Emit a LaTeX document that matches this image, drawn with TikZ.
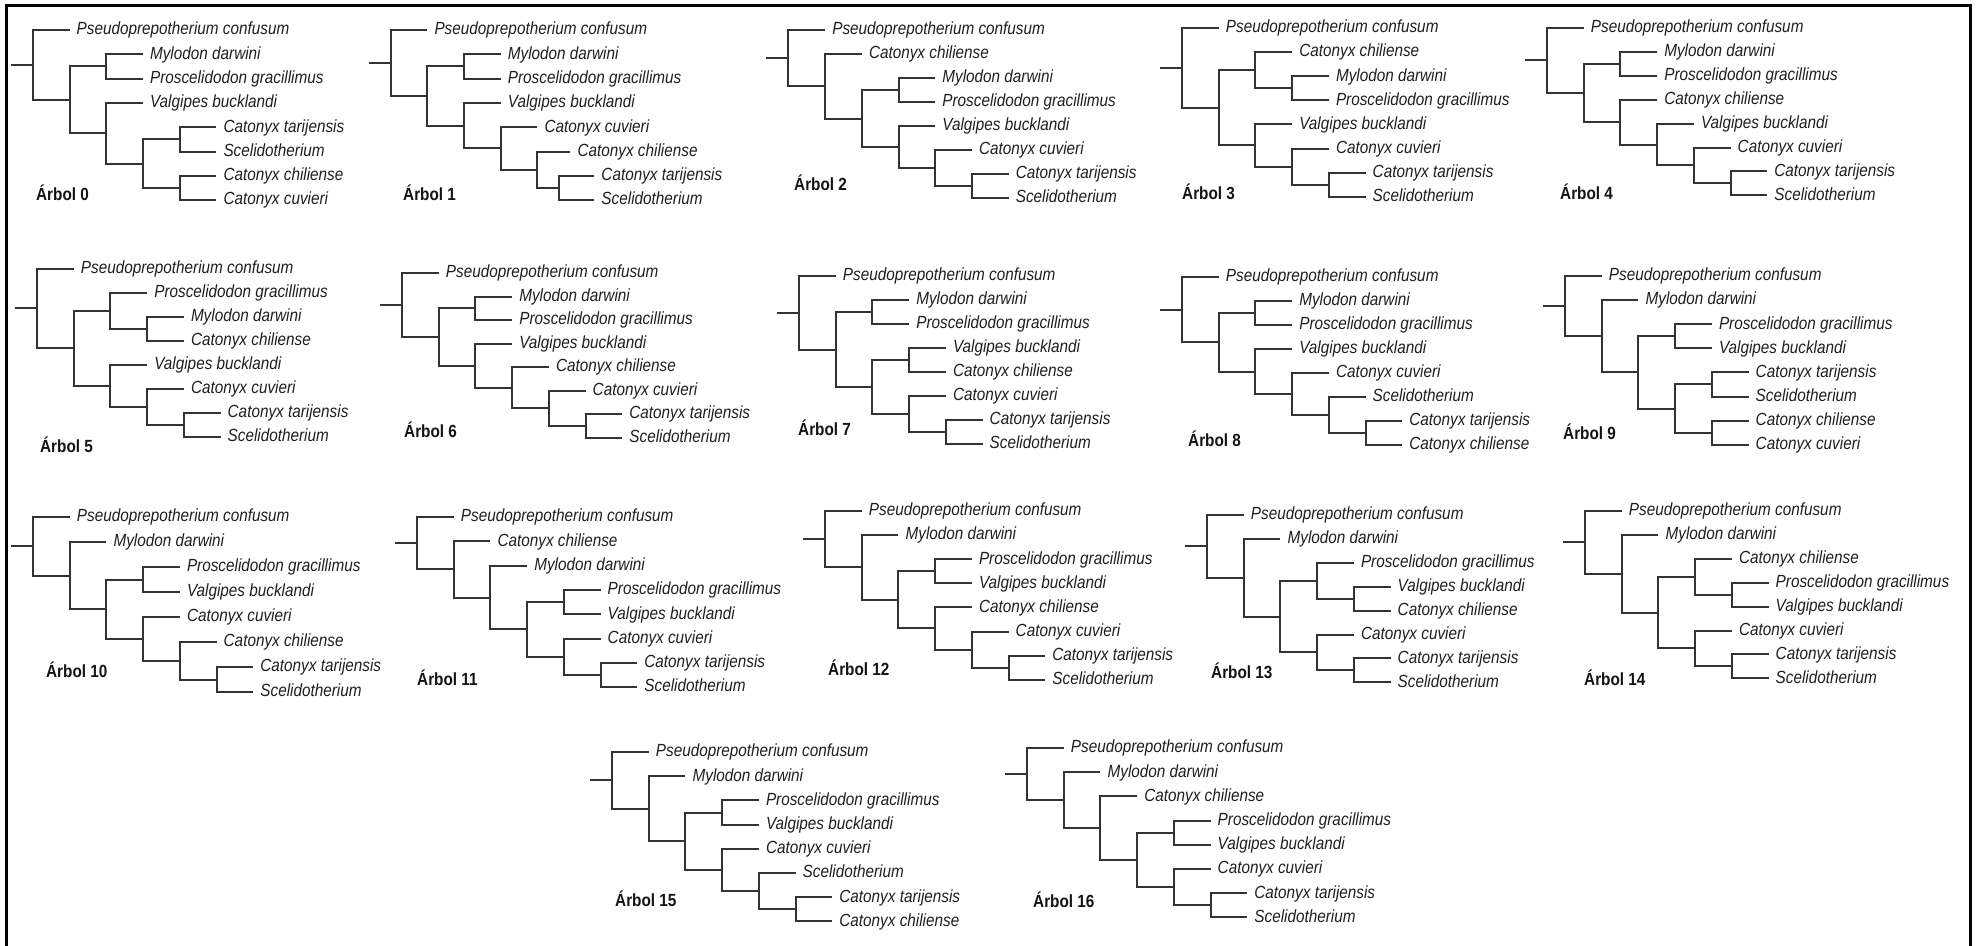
\documentclass[tikz,border=0pt]{standalone}
\usepackage{fontspec}
\usepackage{graphicx}
\setmainfont{Liberation Sans}
\usetikzlibrary{calc}

% horizontal distance between successive levels of a tree
\newcommand\dx{36.7}
% text is set slightly taller than it is wide
\newcommand\tall[1]{\scalebox{1}[1.15]{#1}}
% current tree: prefix, x of the root, y of the first leaf, leaf spacing
\newcommand\settree[4]{\def\trId{#1}\def\trX{#2}\def\trY{#3}\def\trDY{#4}}
% leaf: name, row, level, taxon
\newcommand\leaf[4]{%
  \coordinate (\trId-#1) at ({\trX+#3*\dx},{\trY+#2*\trDY});
  \node[taxon] (\trId-#1-name) at (\trId-#1) {\tall{#4}};}
% clade: name, level, upper child, lower child
\newcommand\clade[4]{%
  \path (\trId-#3) -- (\trId-#4) coordinate[midway] (\trId-#1-mid);
  \coordinate (\trId-#1) at ({\trX+#2*\dx},0 |- \trId-#1-mid);
  \draw[branch] (\trId-#1) |- (\trId-#3);
  \draw[branch] (\trId-#1) |- (\trId-#4);}
% short stem on the left of the root
\newcommand\rootstub{%
  \coordinate (\trId-base) at ({\trX-22},0 |- \trId-root);
  \draw[branch] (\trId-base) -- (\trId-root);}
\newcommand\treename[3]{\node[treelabel] (\trId-label) at (#1,#2) {\tall{#3}};}

\tikzset{
  branch/.style={draw=black!80, line width=2pt},
  taxon/.style={anchor=base west, inner sep=0pt, xshift=7pt, yshift=-4.8pt,
    font=\itshape\fontsize{15.3}{16}\selectfont, text=black!88},
  treelabel/.style={anchor=west, inner sep=0pt,
    font=\bfseries\fontsize{15.3}{16}\selectfont, text=black!92},
  frameline/.style={line width=2.4pt, draw=black}
}

\begin{document}
\begin{tikzpicture}[x=1pt, y=-1pt]
\useasboundingbox (0,0) rectangle (1980,945);
\fill[white] (0,0) rectangle (1980,945);
\draw[frameline] (6.5,946) -- (6.5,5.5) -- (1970.5,5.5) -- (1970.5,946);

% ---------- Árbol 0
\settree{t0}{32.8}{30}{24.3}
\leaf{pse}{0}{1}{Pseudoprepotherium confusum}
\leaf{myl}{1}{3}{Mylodon darwini}
\leaf{pro}{2}{3}{Proscelidodon gracillimus}
\leaf{val}{3}{3}{Valgipes bucklandi}
\leaf{tar}{4}{5}{Catonyx tarijensis}
\leaf{sce}{5}{5}{Scelidotherium}
\leaf{chi}{6}{5}{Catonyx chiliense}
\leaf{cuv}{7}{5}{Catonyx cuvieri}
\clade{d}{4}{tar}{sce}
\clade{e}{4}{chi}{cuv}
\clade{c}{3}{d}{e}
\clade{b}{2}{val}{c}
\clade{a}{2}{myl}{pro}
\clade{n1}{1}{a}{b}
\clade{root}{0}{pse}{n1}
\rootstub
\treename{36}{193}{Árbol 0}

% ---------- Árbol 1
\settree{t1}{390.6}{30}{24.3}
\leaf{pse}{0}{1}{Pseudoprepotherium confusum}
\leaf{myl}{1}{3}{Mylodon darwini}
\leaf{pro}{2}{3}{Proscelidodon gracillimus}
\leaf{val}{3}{3}{Valgipes bucklandi}
\leaf{cuv}{4}{4}{Catonyx cuvieri}
\leaf{chi}{5}{4.9}{Catonyx chiliense}
\leaf{tar}{6}{5.55}{Catonyx tarijensis}
\leaf{sce}{7}{5.55}{Scelidotherium}
\clade{f}{4.6}{tar}{sce}
\clade{e}{4}{chi}{f}
\clade{c}{3}{cuv}{e}
\clade{b}{2}{val}{c}
\clade{a}{2}{myl}{pro}
\clade{n1}{1}{a}{b}
\clade{root}{0}{pse}{n1}
\rootstub
\treename{403}{193}{Árbol 1}

% ---------- Árbol 2
\settree{t2}{788.4}{30}{24}
\leaf{pse}{0}{1}{Pseudoprepotherium confusum}
\leaf{chi}{1}{2}{Catonyx chiliense}
\leaf{myl}{2}{4}{Mylodon darwini}
\leaf{pro}{3}{4}{Proscelidodon gracillimus}
\leaf{val}{4}{4}{Valgipes bucklandi}
\leaf{cuv}{5}{5}{Catonyx cuvieri}
\leaf{tar}{6}{6}{Catonyx tarijensis}
\leaf{sce}{7}{6}{Scelidotherium}
\clade{f}{5}{tar}{sce}
\clade{c}{4}{cuv}{f}
\clade{b}{3}{val}{c}
\clade{a}{3}{myl}{pro}
\clade{n2}{2}{a}{b}
\clade{n1}{1}{chi}{n2}
\clade{root}{0}{pse}{n1}
\rootstub
\treename{794}{183}{Árbol 2}

% ---------- Árbol 3
\settree{t3}{1182}{28}{24.1}
\leaf{pse}{0}{1}{Pseudoprepotherium confusum}
\leaf{chi}{1}{3}{Catonyx chiliense}
\leaf{myl}{2}{4}{Mylodon darwini}
\leaf{pro}{3}{4}{Proscelidodon gracillimus}
\leaf{val}{4}{3}{Valgipes bucklandi}
\leaf{cuv}{5}{4}{Catonyx cuvieri}
\leaf{tar}{6}{5}{Catonyx tarijensis}
\leaf{sce}{7}{5}{Scelidotherium}
\clade{a2}{3}{myl}{pro}
\clade{a}{2}{chi}{a2}
\clade{f}{4}{tar}{sce}
\clade{c}{3}{cuv}{f}
\clade{b}{2}{val}{c}
\clade{n1}{1}{a}{b}
\clade{root}{0}{pse}{n1}
\rootstub
\treename{1182}{192}{Árbol 3}

% ---------- Árbol 4
\settree{t4}{1547}{28}{23.9}
\leaf{pse}{0}{1}{Pseudoprepotherium confusum}
\leaf{myl}{1}{3}{Mylodon darwini}
\leaf{pro}{2}{3}{Proscelidodon gracillimus}
\leaf{chi}{3}{3}{Catonyx chiliense}
\leaf{val}{4}{4}{Valgipes bucklandi}
\leaf{cuv}{5}{5}{Catonyx cuvieri}
\leaf{tar}{6}{6}{Catonyx tarijensis}
\leaf{sce}{7}{6}{Scelidotherium}
\clade{f}{5}{tar}{sce}
\clade{e}{4}{cuv}{f}
\clade{c}{3}{val}{e}
\clade{b}{2}{chi}{c}
\clade{a}{2}{myl}{pro}
\clade{n1}{1}{a}{b}
\clade{root}{0}{pse}{n1}
\rootstub
\treename{1560}{192}{Árbol 4}

% ---------- Árbol 5
\settree{t5}{37}{268.7}{24}
\leaf{pse}{0}{1}{Pseudoprepotherium confusum}
\leaf{pro}{1}{3}{Proscelidodon gracillimus}
\leaf{myl}{2}{4}{Mylodon darwini}
\leaf{chi}{3}{4}{Catonyx chiliense}
\leaf{val}{4}{3}{Valgipes bucklandi}
\leaf{cuv}{5}{4}{Catonyx cuvieri}
\leaf{tar}{6}{5}{Catonyx tarijensis}
\leaf{sce}{7}{5}{Scelidotherium}
\clade{a2}{3}{myl}{chi}
\clade{a}{2}{pro}{a2}
\clade{f}{4}{tar}{sce}
\clade{c}{3}{cuv}{f}
\clade{b}{2}{val}{c}
\clade{n1}{1}{a}{b}
\clade{root}{0}{pse}{n1}
\rootstub
\treename{40}{445}{Árbol 5}

% ---------- Árbol 6
\settree{t6}{402}{273}{23.5}
\leaf{pse}{0}{1}{Pseudoprepotherium confusum}
\leaf{myl}{1}{3}{Mylodon darwini}
\leaf{pro}{2}{3}{Proscelidodon gracillimus}
\leaf{val}{3}{3}{Valgipes bucklandi}
\leaf{chi}{4}{4}{Catonyx chiliense}
\leaf{cuv}{5}{5}{Catonyx cuvieri}
\leaf{tar}{6}{6}{Catonyx tarijensis}
\leaf{sce}{7}{6}{Scelidotherium}
\clade{f}{5}{tar}{sce}
\clade{e}{4}{cuv}{f}
\clade{c}{3}{chi}{e}
\clade{b}{2}{val}{c}
\clade{a}{2}{myl}{pro}
\clade{n1}{1}{a}{b}
\clade{root}{0}{pse}{n1}
\rootstub
\treename{404}{430}{Árbol 6}

% ---------- Árbol 7
\settree{t7}{799}{276}{24}
\leaf{pse}{0}{1}{Pseudoprepotherium confusum}
\leaf{myl}{1}{3}{Mylodon darwini}
\leaf{pro}{2}{3}{Proscelidodon gracillimus}
\leaf{val}{3}{4}{Valgipes bucklandi}
\leaf{chi}{4}{4}{Catonyx chiliense}
\leaf{cuv}{5}{4}{Catonyx cuvieri}
\leaf{tar}{6}{5}{Catonyx tarijensis}
\leaf{sce}{7}{5}{Scelidotherium}
\clade{c}{3}{val}{chi}
\clade{f}{4}{tar}{sce}
\clade{e}{3}{cuv}{f}
\clade{b}{2}{c}{e}
\clade{a}{2}{myl}{pro}
\clade{n1}{1}{a}{b}
\clade{root}{0}{pse}{n1}
\rootstub
\treename{798}{428}{Árbol 7}

% ---------- Árbol 8
\settree{t8}{1182}{277}{24}
\leaf{pse}{0}{1}{Pseudoprepotherium confusum}
\leaf{myl}{1}{3}{Mylodon darwini}
\leaf{pro}{2}{3}{Proscelidodon gracillimus}
\leaf{val}{3}{3}{Valgipes bucklandi}
\leaf{cuv}{4}{4}{Catonyx cuvieri}
\leaf{sce}{5}{5}{Scelidotherium}
\leaf{tar}{6}{6}{Catonyx tarijensis}
\leaf{chi}{7}{6}{Catonyx chiliense}
\clade{f}{5}{tar}{chi}
\clade{e}{4}{sce}{f}
\clade{c}{3}{cuv}{e}
\clade{b}{2}{val}{c}
\clade{a}{2}{myl}{pro}
\clade{n1}{1}{a}{b}
\clade{root}{0}{pse}{n1}
\rootstub
\treename{1188}{439}{Árbol 8}

% ---------- Árbol 9
\settree{t9}{1565}{276}{24.1}
\leaf{pse}{0}{1}{Pseudoprepotherium confusum}
\leaf{myl}{1}{2}{Mylodon darwini}
\leaf{pro}{2}{4}{Proscelidodon gracillimus}
\leaf{val}{3}{4}{Valgipes bucklandi}
\leaf{tar}{4}{5}{Catonyx tarijensis}
\leaf{sce}{5}{5}{Scelidotherium}
\leaf{chi}{6}{5}{Catonyx chiliense}
\leaf{cuv}{7}{5}{Catonyx cuvieri}
\clade{c}{4}{tar}{sce}
\clade{e}{4}{chi}{cuv}
\clade{b}{3}{c}{e}
\clade{a}{3}{pro}{val}
\clade{n2}{2}{a}{b}
\clade{n1}{1}{myl}{n2}
\clade{root}{0}{pse}{n1}
\rootstub
\treename{1563}{432}{Árbol 9}

% ---------- Árbol 10
\settree{t10}{33}{517}{25}
\leaf{pse}{0}{1}{Pseudoprepotherium confusum}
\leaf{myl}{1}{2}{Mylodon darwini}
\leaf{pro}{2}{4}{Proscelidodon gracillimus}
\leaf{val}{3}{4}{Valgipes bucklandi}
\leaf{cuv}{4}{4}{Catonyx cuvieri}
\leaf{chi}{5}{5}{Catonyx chiliense}
\leaf{tar}{6}{6}{Catonyx tarijensis}
\leaf{sce}{7}{6}{Scelidotherium}
\clade{f}{5}{tar}{sce}
\clade{c}{4}{chi}{f}
\clade{b}{3}{cuv}{c}
\clade{a}{3}{pro}{val}
\clade{n2}{2}{a}{b}
\clade{n1}{1}{myl}{n2}
\clade{root}{0}{pse}{n1}
\rootstub
\treename{46}{670}{Árbol 10}

% ---------- Árbol 11
\settree{t11}{417}{517}{24.3}
\leaf{pse}{0}{1}{Pseudoprepotherium confusum}
\leaf{chi}{1}{2}{Catonyx chiliense}
\leaf{myl}{2}{3}{Mylodon darwini}
\leaf{pro}{3}{5}{Proscelidodon gracillimus}
\leaf{val}{4}{5}{Valgipes bucklandi}
\leaf{cuv}{5}{5}{Catonyx cuvieri}
\leaf{tar}{6}{6}{Catonyx tarijensis}
\leaf{sce}{7}{6}{Scelidotherium}
\clade{f}{5}{tar}{sce}
\clade{b}{4}{cuv}{f}
\clade{a}{4}{pro}{val}
\clade{n3}{3}{a}{b}
\clade{n2}{2}{myl}{n3}
\clade{n1}{1}{chi}{n2}
\clade{root}{0}{pse}{n1}
\rootstub
\treename{417}{678}{Árbol 11}

% ---------- Árbol 12
\settree{t12}{825}{511}{24.1}
\leaf{pse}{0}{1}{Pseudoprepotherium confusum}
\leaf{myl}{1}{2}{Mylodon darwini}
\leaf{pro}{2}{4}{Proscelidodon gracillimus}
\leaf{val}{3}{4}{Valgipes bucklandi}
\leaf{chi}{4}{4}{Catonyx chiliense}
\leaf{cuv}{5}{5}{Catonyx cuvieri}
\leaf{tar}{6}{6}{Catonyx tarijensis}
\leaf{sce}{7}{6}{Scelidotherium}
\clade{f}{5}{tar}{sce}
\clade{c}{4}{cuv}{f}
\clade{b}{3}{chi}{c}
\clade{a}{3}{pro}{val}
\clade{n2}{2}{a}{b}
\clade{n1}{1}{myl}{n2}
\clade{root}{0}{pse}{n1}
\rootstub
\treename{828}{668}{Árbol 12}

% ---------- Árbol 13
\settree{t13}{1207}{515}{23.9}
\leaf{pse}{0}{1}{Pseudoprepotherium confusum}
\leaf{myl}{1}{2}{Mylodon darwini}
\leaf{pro}{2}{4}{Proscelidodon gracillimus}
\leaf{val}{3}{5}{Valgipes bucklandi}
\leaf{chi}{4}{5}{Catonyx chiliense}
\leaf{cuv}{5}{4}{Catonyx cuvieri}
\leaf{tar}{6}{5}{Catonyx tarijensis}
\leaf{sce}{7}{5}{Scelidotherium}
\clade{a2}{4}{val}{chi}
\clade{a}{3}{pro}{a2}
\clade{f}{4}{tar}{sce}
\clade{b}{3}{cuv}{f}
\clade{n2}{2}{a}{b}
\clade{n1}{1}{myl}{n2}
\clade{root}{0}{pse}{n1}
\rootstub
\treename{1211}{671}{Árbol 13}

% ---------- Árbol 14
\settree{t14}{1585}{511}{23.9}
\leaf{pse}{0}{1}{Pseudoprepotherium confusum}
\leaf{myl}{1}{2}{Mylodon darwini}
\leaf{chi}{2}{4}{Catonyx chiliense}
\leaf{pro}{3}{5}{Proscelidodon gracillimus}
\leaf{val}{4}{5}{Valgipes bucklandi}
\leaf{cuv}{5}{4}{Catonyx cuvieri}
\leaf{tar}{6}{5}{Catonyx tarijensis}
\leaf{sce}{7}{5}{Scelidotherium}
\clade{a2}{4}{pro}{val}
\clade{a}{3}{chi}{a2}
\clade{f}{4}{tar}{sce}
\clade{b}{3}{cuv}{f}
\clade{n2}{2}{a}{b}
\clade{n1}{1}{myl}{n2}
\clade{root}{0}{pse}{n1}
\rootstub
\treename{1584}{678}{Árbol 14}

% ---------- Árbol 15
\settree{t15}{612}{752}{24.2}
\leaf{pse}{0}{1}{Pseudoprepotherium confusum}
\leaf{myl}{1}{2}{Mylodon darwini}
\leaf{pro}{2}{4}{Proscelidodon gracillimus}
\leaf{val}{3}{4}{Valgipes bucklandi}
\leaf{cuv}{4}{4}{Catonyx cuvieri}
\leaf{sce}{5}{5}{Scelidotherium}
\leaf{tar}{6}{6}{Catonyx tarijensis}
\leaf{chi}{7}{6}{Catonyx chiliense}
\clade{f}{5}{tar}{chi}
\clade{c}{4}{sce}{f}
\clade{b}{3}{cuv}{c}
\clade{a}{3}{pro}{val}
\clade{n2}{2}{a}{b}
\clade{n1}{1}{myl}{n2}
\clade{root}{0}{pse}{n1}
\rootstub
\treename{615}{899}{Árbol 15}

% ---------- Árbol 16
\settree{t16}{1027}{748}{24.2}
\leaf{pse}{0}{1}{Pseudoprepotherium confusum}
\leaf{myl}{1}{2}{Mylodon darwini}
\leaf{chi}{2}{3}{Catonyx chiliense}
\leaf{pro}{3}{5}{Proscelidodon gracillimus}
\leaf{val}{4}{5}{Valgipes bucklandi}
\leaf{cuv}{5}{5}{Catonyx cuvieri}
\leaf{tar}{6}{6}{Catonyx tarijensis}
\leaf{sce}{7}{6}{Scelidotherium}
\clade{f}{5}{tar}{sce}
\clade{b}{4}{cuv}{f}
\clade{a}{4}{pro}{val}
\clade{n3}{3}{a}{b}
\clade{n2}{2}{chi}{n3}
\clade{n1}{1}{myl}{n2}
\clade{root}{0}{pse}{n1}
\rootstub
\treename{1033}{900}{Árbol 16}

\end{tikzpicture}
\end{document}
